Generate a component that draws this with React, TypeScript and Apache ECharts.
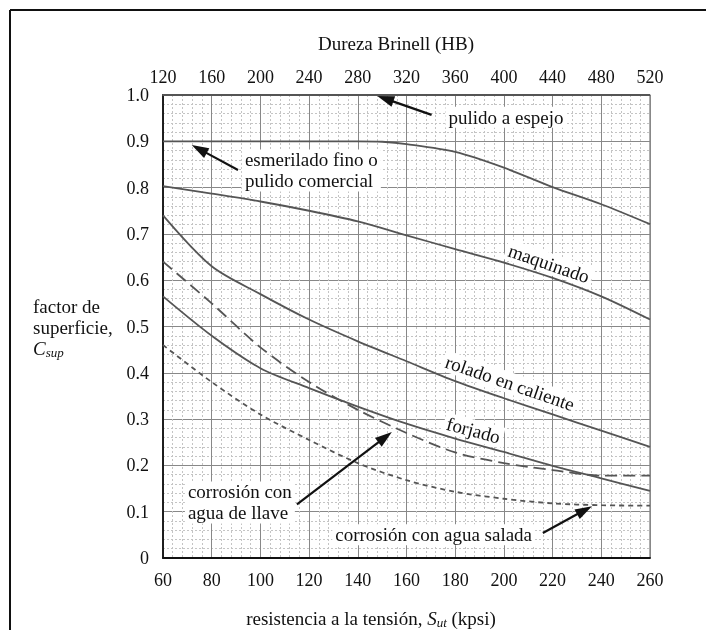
import React, { useEffect, useRef } from "react";
import * as echarts from "echarts";

// Resistencia a la tensión S_ut (kpsi) sampled points
const kpsi = [60, 80, 100, 120, 140, 160, 180, 200, 220, 240, 260];
// Top axis (Dureza Brinell HB) range and step
const brinellRange = [120, 520];
const brinellStep = 40;

const pulidoEspejo = [1, 1, 1, 1, 1, 1, 1, 1, 1, 1, 1];
const esmeriladoX = [60, 100, 140, 150, 160, 180, 200, 220, 240, 260];
const esmerilado = [0.9, 0.9, 0.9, 0.899, 0.894, 0.877, 0.843, 0.801, 0.764, 0.721];
const maquinado = [0.803, 0.787, 0.77, 0.75, 0.727, 0.697, 0.667, 0.638, 0.605, 0.565, 0.515];
const rolado = [0.74, 0.63, 0.57, 0.515, 0.468, 0.425, 0.382, 0.345, 0.31, 0.275, 0.24];
const forjado = [0.565, 0.48, 0.41, 0.367, 0.327, 0.29, 0.258, 0.229, 0.199, 0.172, 0.145];
const aguaLlave = [0.64, 0.55, 0.455, 0.38, 0.32, 0.27, 0.228, 0.205, 0.19, 0.178, 0.178];
const aguaSalada = [0.46, 0.38, 0.31, 0.255, 0.205, 0.168, 0.143, 0.128, 0.118, 0.114, 0.113];

const FONT = "serif";
const CURVE = "#555";
const FS = 18; // tick labels
const TS = 19; // other texts

const pairs = (xs: number[], ys: number[]) => xs.map((x, i) => [x, ys[i]]);

export default function App() {
  const ref = useRef<HTMLDivElement>(null);

  useEffect(() => {
    if (!ref.current) return;
    const chart = echarts.init(ref.current, undefined, { renderer: "svg" });

    const lineSeries = (name: string, data: number[][], dash?: number[]) => ({
      name,
      type: "line",
      data,
      xAxisIndex: 0,
      yAxisIndex: 0,
      showSymbol: false,
      smooth: 0.3,
      lineStyle: {
        color: CURVE,
        width: 1.8,
        type: dash ? dash : "solid",
      },
      z: 5,
      silent: true,
    });

    chart.setOption({
      animation: false,
      textStyle: { fontFamily: FONT, fontSize: FS },
      grid: {
        left: 163,
        right: 56,
        top: 95,
        bottom: 72,
        show: true,
        borderColor: "#777",
        borderWidth: 1.2,
      },
      xAxis: [
        {
          type: "value",
          position: "bottom",
          min: 60,
          max: 260,
          interval: 20,
          axisLine: { show: true, onZero: false, lineStyle: { color: "#111", width: 1.8 } },
          axisTick: { show: false },
          axisLabel: { color: "#111", fontSize: FS, fontFamily: "serif", margin: 13 },
          splitLine: { show: true, lineStyle: { color: "#888", width: 1 } },
          minorTick: { show: false, splitNumber: 5 },
          minorSplitLine: { show: true, lineStyle: { color: "#c4c4c4", width: 1, type: [2, 2] } },
        },
        {
          type: "value",
          position: "top",
          min: brinellRange[0],
          max: brinellRange[1],
          interval: brinellStep,
          axisLine: { show: true, onZero: false, lineStyle: { color: "#777", width: 1.2 } },
          axisTick: { show: false },
          axisLabel: { color: "#111", fontSize: FS, fontFamily: "Times New Roman", margin: 9 },
          splitLine: { show: false },
        },
      ],
      yAxis: [
        {
          type: "value",
          min: 0,
          max: 1,
          interval: 0.1,
          axisLine: { show: true, onZero: false, lineStyle: { color: "#111", width: 1.8 } },
          axisTick: { show: false },
          axisLabel: {
            color: "#111",
            fontSize: FS,
            fontFamily: "Liberation Serif",
            margin: 14,
            formatter: (v: number) => (v === 0 ? "0" : v.toFixed(1)),
          },
          splitLine: { show: true, lineStyle: { color: "#888", width: 1 } },
          minorTick: { show: false, splitNumber: 5 },
          minorSplitLine: { show: true, lineStyle: { color: "#c4c4c4", width: 1, type: [2, 2] } },
        },
      ],
      series: [
        lineSeries("pulido a espejo", pairs(kpsi, pulidoEspejo)),
        lineSeries("esmerilado fino o pulido comercial", pairs(esmeriladoX, esmerilado)),
        lineSeries("maquinado", pairs(kpsi, maquinado)),
        lineSeries("rolado en caliente", pairs(kpsi, rolado)),
        lineSeries("forjado", pairs(kpsi, forjado)),
        lineSeries("corrosión con agua de llave", pairs(kpsi, aguaLlave), [12, 6]),
        lineSeries("corrosión con agua salada", pairs(kpsi, aguaSalada), [5, 4]),
      ],
    });

    const px = (x: number, y: number) =>
      chart.convertToPixel({ xAxisIndex: 0, yAxisIndex: 0 }, [x, y]) as number[];

    const arrow = (from: number[], to: number[]) => {
      const a = px(from[0], from[1]);
      const b = px(to[0], to[1]);
      const dx = b[0] - a[0];
      const dy = b[1] - a[1];
      const len = Math.sqrt(dx * dx + dy * dy);
      const ux = dx / len;
      const uy = dy / len;
      const hl = 17;
      const hw = 5.5;
      const bx = b[0] - ux * hl;
      const by = b[1] - uy * hl;
      return [
        {
          type: "line",
          shape: { x1: a[0], y1: a[1], x2: bx + ux * 2, y2: by + uy * 2 },
          style: { stroke: "#111", lineWidth: 2.2 },
          z: 20,
        },
        {
          type: "polygon",
          shape: {
            points: [
              [b[0], b[1]],
              [bx - uy * hw, by + ux * hw],
              [bx + uy * hw, by - ux * hw],
            ],
          },
          style: { fill: "#111" },
          z: 20,
        },
      ];
    };

    const label = (
      text: string,
      at: number[],
      opts: { align?: string; rotate?: number; vAlign?: string } = {}
    ) => {
      const p = px(at[0], at[1]);
      return {
        type: "text",
        x: p[0],
        y: p[1],
        rotation: ((opts.rotate || 0) * Math.PI) / 180,
        z: 15,
        style: {
          text,
          fill: "#111",
          font: `${TS}px serif`,
          align: opts.align || "left",
          verticalAlign: opts.vAlign || "middle",
          lineHeight: 21,
          backgroundColor: "#fff",
          padding: [0, 3, 0, 3],
        },
      };
    };

    const graphic: any[] = [
      // page frame
      { type: "line", shape: { x1: 10, y1: 10, x2: 706, y2: 10 }, style: { stroke: "#111", lineWidth: 2 } },
      { type: "line", shape: { x1: 10, y1: 10, x2: 10, y2: 630 }, style: { stroke: "#111", lineWidth: 2 } },
      // axis titles
      {
        type: "text",
        x: 396,
        y: 43,
        style: { text: "Dureza Brinell (HB)", fill: "#111", fontSize: TS, fontFamily: "Liberation Serif", align: "center", verticalAlign: "middle" },
      },
      {
        type: "text",
        x: 371,
        y: 618,
        style: {
          text: "resistencia a la tensión, {i|S}{s|ut} (kpsi)",
          fill: "#111",
          font: `${TS}px serif`,
          align: "center",
          verticalAlign: "middle",
          rich: {
            i: { font: `italic ${TS}px serif`, fill: "#111" },
            s: { font: "italic 13px serif", fill: "#111", padding: [8, 0, 0, 0] },
          },
        },
      },
      {
        type: "text",
        x: 33,
        y: 296,
        style: {
          text: "factor de\nsuperficie,\n{i|C}{s|sup}",
          fill: "#111",
          font: `${TS}px serif`,
          align: "left",
          verticalAlign: "top",
          lineHeight: 21,
          rich: {
            i: { font: `italic ${TS}px serif`, fill: "#111", lineHeight: 21 },
            s: { font: "italic 13px serif", fill: "#111", padding: [8, 0, 0, 0] },
          },
        },
      },
      // annotations
      label("pulido a espejo", [176, 0.952]),
      ...arrow([170.3, 0.957], [148, 0.998]),
      label("esmerilado fino o\npulido comercial", [92.4, 0.837]),
      ...arrow([90.8, 0.838], [71.8, 0.892]),
      label("maquinado", [218.5, 0.636], { align: "center", rotate: -19 }),
      label("rolado en caliente", [202.5, 0.378], { align: "center", rotate: -19 }),
      label("forjado", [187.5, 0.276], { align: "center", rotate: -15 }),
      label("corrosión con\nagua de llave", [69, 0.12]),
      ...arrow([115, 0.116], [154, 0.272]),
      label("corrosión con agua salada", [212.8, 0.05], { align: "right" }),
      ...arrow([216, 0.054], [236.2, 0.112]),
    ];

    chart.setOption({ graphic });

    return () => chart.dispose();
  }, []);

  return <div ref={ref} style={{ position: "fixed", left: 0, top: 0, width: 706, height: 630 }} />;
}
